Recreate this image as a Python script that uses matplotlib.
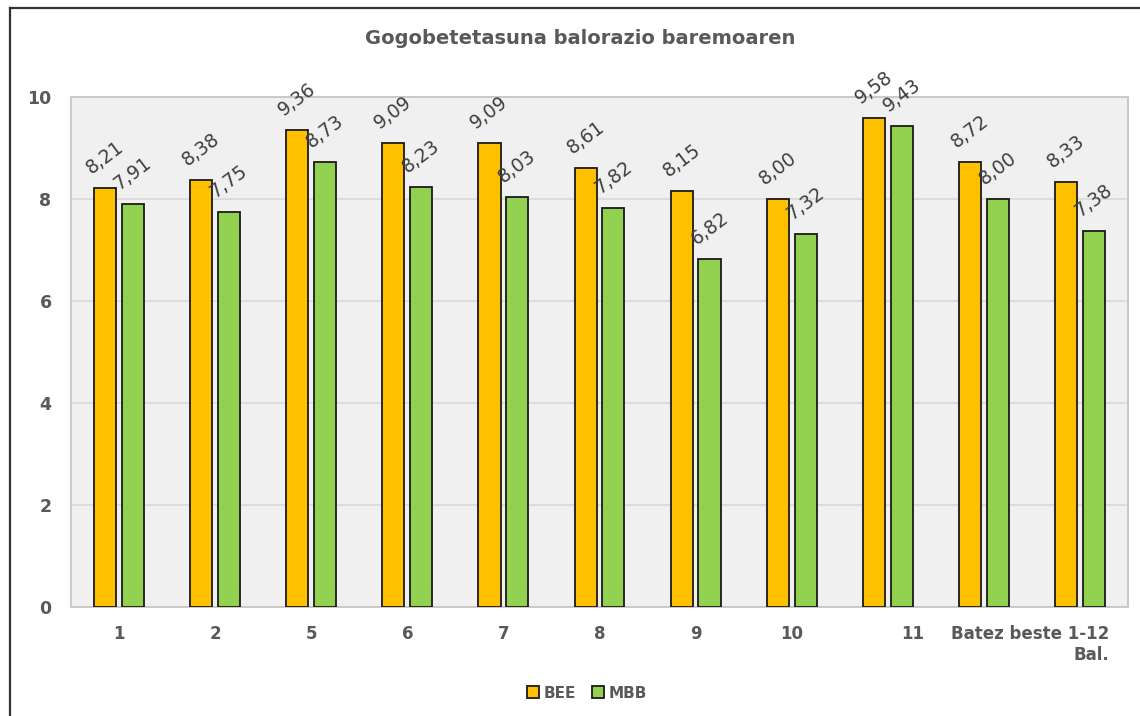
import matplotlib
matplotlib.use("Agg")
import matplotlib.pyplot as plt
import matplotlib.transforms as mtransforms
from matplotlib.lines import Line2D
from matplotlib.patches import Patch
import numpy as np

bee = [8.21, 8.38, 9.36, 9.09, 9.09, 8.61, 8.15, 8.00, 9.58, 8.72, 8.33]
mbb = [7.91, 7.75, 8.73, 8.23, 8.03, 7.82, 6.82, 7.32, 9.43, 8.00, 7.38]
cat_labels = ["1", "2", "5", "6", "7", "8", "9", "10", "11", "Batez beste 1-12\nBal.", ""]
series_names = ["BEE", "MBB"]
yticks = [0, 2, 4, 6, 8, 10]

gray_txt = "#595959"
fig = plt.figure(figsize=(11.4, 7.16), dpi=100)
ax = fig.add_axes([71/1140, 1-607/716, (1128-71)/1140, (607-97)/716])
ax.set_facecolor("#F0F0F0")

x = np.arange(len(bee))
w = 0.23
off = 0.145
ax.bar(x - off, bee, w, color="#FFC000", edgecolor="#1a1a1a", linewidth=1.3, zorder=3, label=series_names[0])
ax.bar(x + off, mbb, w, color="#92D050", edgecolor="#1a1a1a", linewidth=1.3, zorder=3, label=series_names[1])

for xs, vals in ((x - off, bee), (x + off, mbb)):
    for xi, v in zip(xs, vals):
        ax.annotate(f"{v:.2f}".replace(".", ","), (xi, v), xytext=(0, 22), textcoords="offset points",
                    ha="center", va="center", rotation=37, fontsize=13.5, color="#404040", zorder=5)

ax.set_xlim(-0.5, len(bee) - 0.5)
ax.set_ylim(0, 10)
ax.set_yticks(yticks)
ax.set_yticklabels([str(t) for t in yticks], fontsize=12.5, fontweight="bold", color=gray_txt)
ax.yaxis.grid(True, color="#D9D9D9", linewidth=1.2, zorder=0)
ax.set_axisbelow(True)
ax.tick_params(axis="both", length=0)
ax.tick_params(axis="y", pad=14)
ax.tick_params(axis="x", pad=13)
ax.set_xticks(x)
ax.set_xticklabels(cat_labels, fontsize=12, fontweight="bold", color=gray_txt, va="top")
for s in ax.spines.values():
    s.set_color("#CACACA")
    s.set_linewidth(1.5)

lbls = ax.get_xticklabels()
lbls[8].set_transform(lbls[8].get_transform() + mtransforms.ScaledTranslation(0.25, 0, fig.dpi_scale_trans))
lbls[9].set_horizontalalignment("right")
lbls[9].set_multialignment("right")
lbls[9].set_transform(lbls[9].get_transform() + mtransforms.ScaledTranslation(1.25, 0, fig.dpi_scale_trans))

fig.text(580/1140, 1-38/716, "Gogobetetasuna balorazio baremoaren", ha="center", va="center",
         fontsize=14, fontweight="bold", color=gray_txt)

handles = [Patch(facecolor="#FFC000", edgecolor="#1a1a1a", linewidth=1.3),
           Patch(facecolor="#92D050", edgecolor="#1a1a1a", linewidth=1.3)]
leg = fig.legend(handles, series_names, loc="center", bbox_to_anchor=(587/1140, 1-693/716), ncol=2,
                 frameon=False, handlelength=0.8, handleheight=0.8, handletextpad=0.3, columnspacing=1.0,
                 prop={"weight": "bold", "size": 11})
for t in leg.get_texts():
    t.set_color(gray_txt)

fig.add_artist(Line2D([10/1140, 1.0], [1-8/716, 1-8/716], color="#333333", linewidth=1.6, transform=fig.transFigure))
fig.add_artist(Line2D([10/1140, 10/1140], [0, 1-8/716], color="#333333", linewidth=1.6, transform=fig.transFigure))

fig.savefig("out.png", dpi=100)
